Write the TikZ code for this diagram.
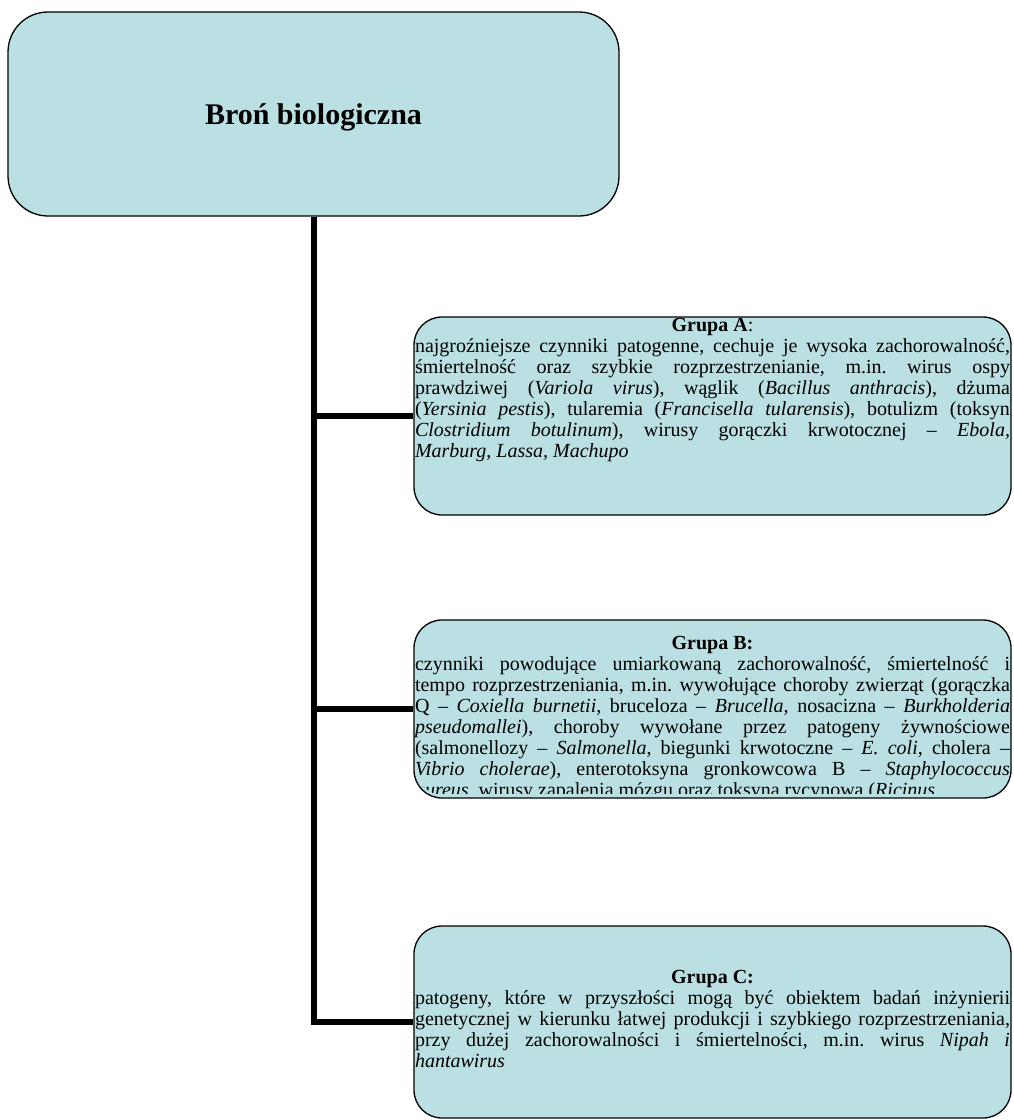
\documentclass[tikz,border=0pt]{standalone}
\usepackage{fontspec}
\setmainfont{Liberation Serif}
\definecolor{boxblue}{RGB}{187,224,227}
\frenchspacing

\begin{document}
\begin{tikzpicture}[x=1pt,y=-1pt,
		box/.style={draw=black,line width=1.3pt,fill=boxblue,rounded corners=28pt,inner sep=0pt,minimum width=597pt},
		grptext/.style={anchor=north,text width=595pt,align=justify,inner sep=0pt,font=\fontsize{20}{21}\selectfont},
		trunk/.style={line width=6pt}
	]
	\useasboundingbox (0,0) rectangle (1013,1120);

	% root box
	\node[box,minimum width=611pt,minimum height=204pt,rounded corners=40pt] (root) at (313.5,114) {};
	\node[font=\fontsize{30}{32}\selectfont\bfseries] (title) at (313.5,117) {Broń biologiczna};

	% group boxes
	\node[box,minimum height=198pt] (boxA) at (712.5,416) {};
	\node[box,minimum height=178pt] (boxB) at (712.5,709) {};
	\node[box,minimum height=192pt] (boxC) at (712.5,1022) {};

	\node[grptext] (txtA) at (712.5,318) {{\centering\textbf{Grupa A}:\par}
		najgroźniejsze czynniki patogenne, cechuje je wysoka zachorowalność,\linebreak
		śmiertelność oraz szybkie rozprzestrzenianie, m.in. wirus ospy\linebreak
		prawdziwej (\textit{Variola virus}), wąglik (\textit{Bacillus anthracis}), dżuma\linebreak
		(\textit{Yersinia pestis}), tularemia (\textit{Francisella tularensis}), botulizm (toksyn\linebreak
		\textit{Clostridium botulinum}), wirusy gorączki krwotocznej -- \textit{Ebola,}\linebreak
		\textit{Marburg}, \textit{Lassa, Machupo}};

	\begin{scope}
		\clip[rounded corners=28pt] (boxB.north west) rectangle ([yshift=5pt]boxB.south east);
		\node[grptext] (txtB) at (712.5,636) {\parfillskip=0pt{\centering\textbf{Grupa B:}\par}
			czynniki powodujące umiarkowaną zachorowalność, śmiertelność i\linebreak
			tempo rozprzestrzeniania, m.in. wywołujące choroby zwierząt (gorączka\linebreak
			Q -- \textit{Coxiella burnetii}, bruceloza -- \textit{Brucella,} nosacizna -- \textit{Burkholderia}\linebreak
			\textit{pseudomallei}), choroby wywołane przez patogeny żywnościowe\linebreak
			(salmonellozy -- \textit{Salmonella}, biegunki krwotoczne -- \textit{E. coli,} cholera --\linebreak
			\textit{Vibrio cholerae}), enterotoksyna gronkowcowa B -- \textit{Staphylococcus}\linebreak
			\textit{aureus}, wirusy zapalenia mózgu oraz toksyna rycynowa (\textit{Ricinus}};
	\end{scope}

	\node[grptext] (txtC) at (712.5,970) {{\centering\textbf{Grupa C:}\par}
		patogeny, które w przyszłości mogą być obiektem badań inżynierii\linebreak
		genetycznej w kierunku łatwej produkcji i szybkiego rozprzestrzeniania,\linebreak
		przy dużej zachorowalności i śmiertelności, m.in. wirus \textit{Nipah i}\linebreak
		\textit{hantawirus}};

	% connectors
	\draw[trunk] (root.south) |- (boxC.west);
	\draw[trunk] (boxA.west -| root.south) -- (boxA.west);
	\draw[trunk] (boxB.west -| root.south) -- (boxB.west);
\end{tikzpicture}
\end{document}
